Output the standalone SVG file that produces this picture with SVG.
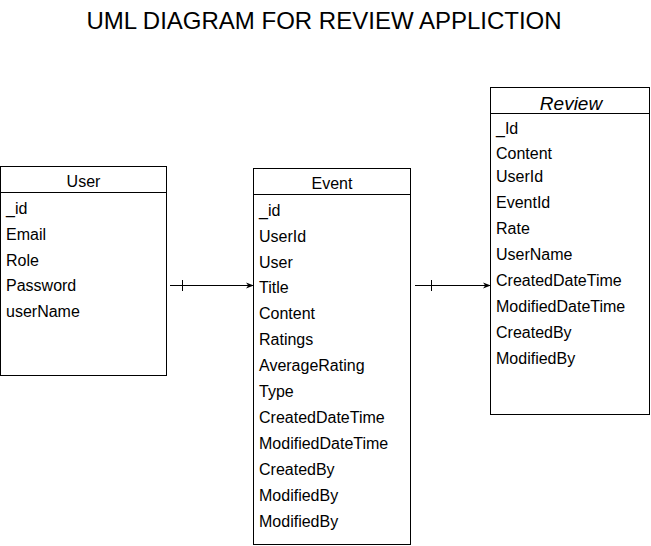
<svg xmlns="http://www.w3.org/2000/svg" width="651" height="546" viewBox="0 0 651 546">
<defs>
<style>
.box{fill:#fff;stroke:#000;stroke-width:1}
.sep{stroke:#000;stroke-width:1}
.t{font-family:"Liberation Sans",Arial,Helvetica,sans-serif;font-size:16px;fill:#000}
.h{text-anchor:middle}
.it{font-style:italic;font-size:19px}
.title{font-family:"Liberation Sans",Arial,Helvetica,sans-serif;font-size:24px;fill:#000;text-anchor:middle}
.conn{stroke:#000;stroke-width:1;fill:none}
</style>
<marker id="arrow" viewBox="0 0 10 10" refX="9" refY="5" markerWidth="8" markerHeight="8" markerUnits="userSpaceOnUse" orient="auto">
<path d="M0,1 L10,5 L0,9 L3,5 Z" fill="#000"/>
</marker>
</defs>
<rect width="651" height="546" fill="#fff"/>
<text class="title" x="324" y="29">UML DIAGRAM FOR REVIEW APPLICTION</text>

<g id="user">
<rect class="box" x="0.5" y="166.5" width="166" height="209"/>
<line class="sep" x1="0.5" y1="192.5" x2="166.5" y2="192.5"/>
<text class="t h" x="83.5" y="187">User</text>
<text class="t" x="6" y="214">_id</text>
<text class="t" x="6" y="240">Email</text>
<text class="t" x="6" y="266">Role</text>
<text class="t" x="6" y="291">Password</text>
<text class="t" x="6" y="317">userName</text>
</g>

<g id="event">
<rect class="box" x="253.5" y="168.5" width="157" height="376"/>
<line class="sep" x1="253.5" y1="194.5" x2="410.5" y2="194.5"/>
<text class="t h" x="332" y="189">Event</text>
<text class="t" x="259" y="216">_id</text>
<text class="t" x="259" y="242">UserId</text>
<text class="t" x="259" y="268">User</text>
<text class="t" x="259" y="293">Title</text>
<text class="t" x="259" y="319">Content</text>
<text class="t" x="259" y="345">Ratings</text>
<text class="t" x="259" y="371">AverageRating</text>
<text class="t" x="259" y="397">Type</text>
<text class="t" x="259" y="423">CreatedDateTime</text>
<text class="t" x="259" y="449">ModifiedDateTime</text>
<text class="t" x="259" y="475">CreatedBy</text>
<text class="t" x="259" y="501">ModifiedBy</text>
<text class="t" x="259" y="527">ModifiedBy</text>
</g>

<g id="review">
<rect class="box" x="490.5" y="87.5" width="159" height="327"/>
<line class="sep" x1="490.5" y1="113.5" x2="649.5" y2="113.5"/>
<text class="t h it" x="571" y="110">Review</text>
<text class="t" x="496" y="134">_Id</text>
<text class="t" x="496" y="159">Content</text>
<text class="t" x="496" y="182">UserId</text>
<text class="t" x="496" y="208">EventId</text>
<text class="t" x="496" y="234">Rate</text>
<text class="t" x="496" y="260">UserName</text>
<text class="t" x="496" y="286">CreatedDateTime</text>
<text class="t" x="496" y="312">ModifiedDateTime</text>
<text class="t" x="496" y="338">CreatedBy</text>
<text class="t" x="496" y="364">ModifiedBy</text>
</g>

<g id="connectors">
<path class="conn" d="M170,285.5 L253,285.5" marker-end="url(#arrow)"/>
<line class="conn" x1="182.5" y1="280" x2="182.5" y2="291"/>
<path class="conn" d="M415,285.5 L490,285.5" marker-end="url(#arrow)"/>
<line class="conn" x1="431.5" y1="280" x2="431.5" y2="291"/>
</g>
</svg>
